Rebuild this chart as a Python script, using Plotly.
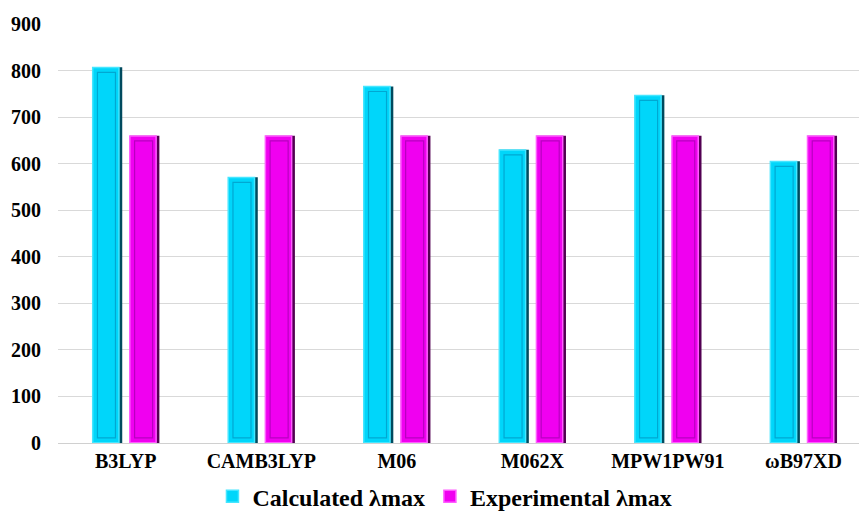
import plotly.graph_objects as go

functionals = ["B3LYP", "CAMB3LYP", "M06", "M062X", "MPW1PW91", "ωB97XD"]
calculated = [807, 571, 766, 630, 747, 605]
experimental = [660, 660, 660, 660, 660, 660]
y_ticks = [0, 100, 200, 300, 400, 500, 600, 700, 800, 900]

FONT = "Liberation Serif"
LEGEND_FONT = "Times New Roman, Liberation Serif, serif"
BAR_W = 0.218
INSET = 11  # inset of the bevel frame, in axis units

fig = go.Figure()


def beveled(values, name, body, dark, light, frame, offset):
    n = len(values)
    # dark shell: shows as the shaded right-hand side
    fig.add_trace(go.Bar(
        x=functionals, y=values, offset=offset, width=BAR_W, showlegend=False,
        marker=dict(color=dark, line=dict(width=0)), hoverinfo="skip",
    ))
    # main face with a light rim
    fig.add_trace(go.Bar(
        x=functionals, y=[v - 1 for v in values], base=[0.5] * n, name=name,
        offset=offset, width=BAR_W - 0.024,
        marker=dict(color=body, line=dict(color=light, width=1.5)),
    ))
    # inner frame giving a bevelled look
    fig.add_trace(go.Bar(
        x=functionals, y=[v - 2 * INSET for v in values], base=[INSET] * n,
        offset=offset + 0.035, width=BAR_W - 0.085, showlegend=False,
        marker=dict(color=body, line=dict(color=frame, width=1.2)),
        hoverinfo="skip",
    ))


beveled(calculated, "Calculated λmax", "#00D6FA", "#004A5E", "#45E6FF", "#00A8D2", -0.244)
beveled(experimental, "Experimental λmax", "#F000F0", "#520052", "#FF5CFF", "#B800C0", 0.03)

fig.update_layout(
    width=859, height=512,
    margin=dict(l=58, r=0, t=24, b=69),
    barmode="overlay",
    plot_bgcolor="white", paper_bgcolor="white",
    font=dict(family=FONT, color="black"),
    showlegend=True,
    legend=dict(
        orientation="h", xref="container", yref="container",
        x=0.518, xanchor="center", y=0.03, yanchor="middle",
        font=dict(family=LEGEND_FONT, size=24, color="black", weight="bold"),
        itemwidth=30, tracegroupgap=0,
    ),
)
fig.update_xaxes(
    type="category", range=[-0.5, 5.41], showgrid=False,
    showline=True, linecolor="#D0D0D0", linewidth=1,
    ticks="", tickfont=dict(family=FONT, size=20, weight="bold"),
)
fig.update_yaxes(
    range=[0, 900], tickvals=y_ticks, showgrid=True, gridcolor="#D9D9D9", gridwidth=1,
    zeroline=False, showline=False, ticks="", ticklabelstandoff=16,
    tickfont=dict(family=FONT, size=20, weight="bold"),
)

fig.write_html("out.html")
